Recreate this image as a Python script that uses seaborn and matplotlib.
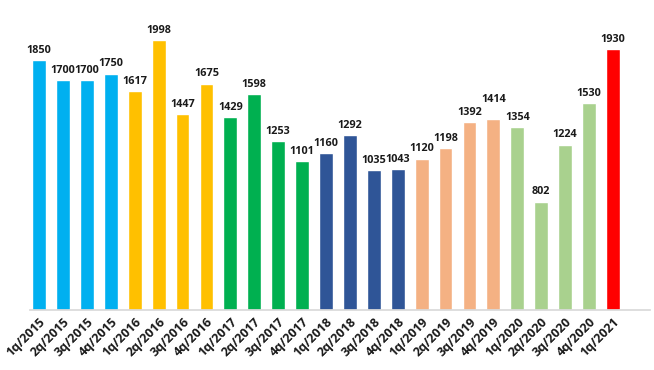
import matplotlib
matplotlib.use("Agg")
import matplotlib.pyplot as plt
import seaborn as sns
import pandas as pd

quarters = ["1q/2015", "2q/2015", "3q/2015", "4q/2015",
            "1q/2016", "2q/2016", "3q/2016", "4q/2016",
            "1q/2017", "2q/2017", "3q/2017", "4q/2017",
            "1q/2018", "2q/2018", "3q/2018", "4q/2018",
            "1q/2019", "2q/2019", "3q/2019", "4q/2019",
            "1q/2020", "2q/2020", "3q/2020", "4q/2020",
            "1q/2021"]
values = [1850, 1700, 1700, 1750,
          1617, 1998, 1447, 1675,
          1429, 1598, 1253, 1101,
          1160, 1292, 1035, 1043,
          1120, 1198, 1392, 1414,
          1354, 802, 1224, 1530,
          1930]
years = [q.split("/")[1] for q in quarters]
year_colors = {"2015": "#00B0F0", "2016": "#FFC000", "2017": "#00B050",
               "2018": "#2F5597", "2019": "#F4B183", "2020": "#A9D18E",
               "2021": "#FF0000"}

df = pd.DataFrame({"quarter": quarters, "value": values, "year": years})

sns.set_theme(style="white")
plt.rcParams["font.family"] = ["Open Sans", "DejaVu Sans"]

fig = plt.figure(figsize=(6.54, 3.70), dpi=100)
ax = fig.add_axes([30 / 654, 60 / 370, 620 / 654, 300 / 370])

sns.barplot(data=df, x="quarter", y="value", hue="quarter",
            palette=[year_colors[y] for y in years], width=0.58,
            saturation=1, legend=False, ax=ax)

# one container per bar; the 4q/2019 label sits a bit higher in the original
for i, c in enumerate(ax.containers):
    pad = 10 if quarters[i] == "4q/2019" else 3
    ax.bar_label(c, padding=pad, fontsize=7.8, fontweight="bold", color="#1a1a1a")

ax.set_xlim(-0.38, 25.55)
ax.set_ylim(0, 2220)
ax.set_xlabel("")
ax.set_ylabel("")
ax.set_yticks([])
for s in ["top", "right", "left"]:
    ax.spines[s].set_visible(False)
ax.spines["bottom"].set_color("#d9d9d9")
ax.tick_params(axis="x", length=0, pad=4)
plt.setp(ax.get_xticklabels(), rotation=45, ha="right", rotation_mode="anchor",
         fontsize=9, fontweight="bold", color="#1a1a1a")

fig.savefig("out.png", dpi=100)
